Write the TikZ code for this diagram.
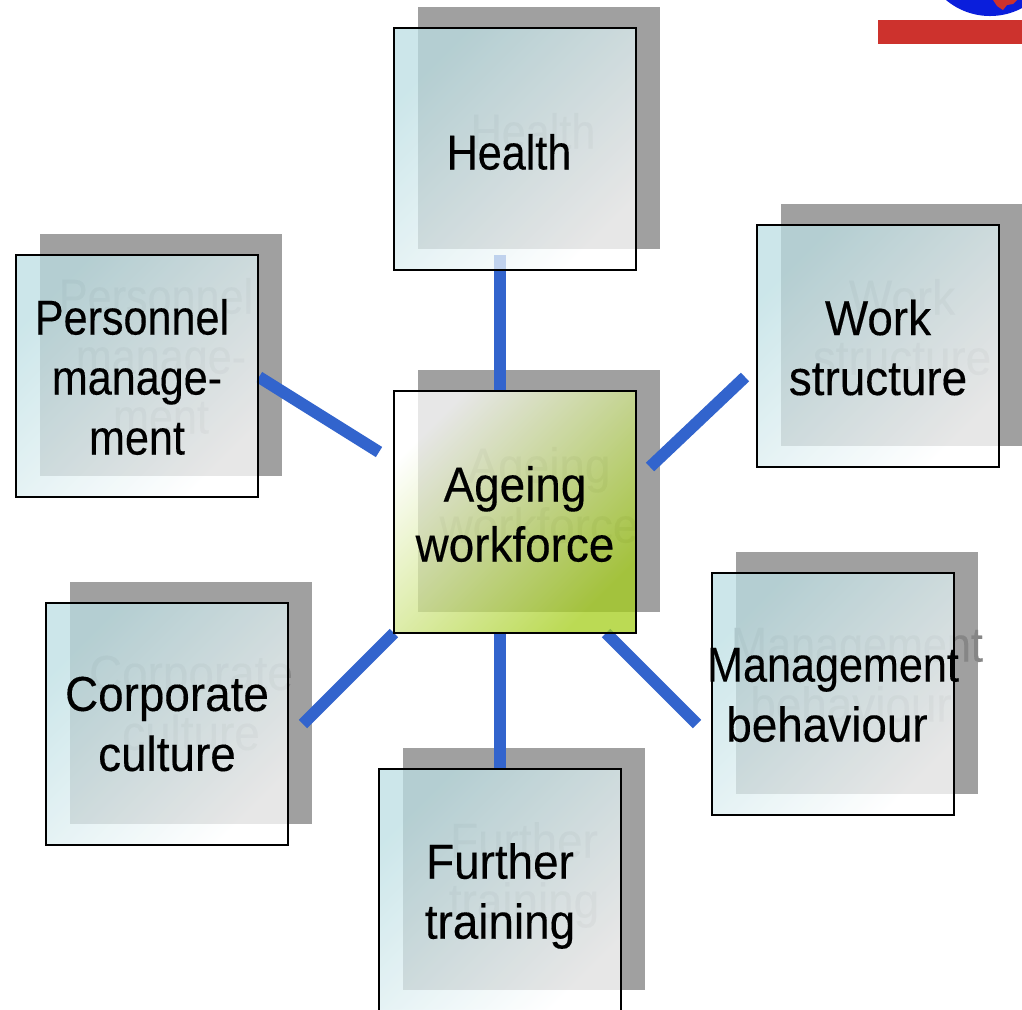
\documentclass[tikz,border=0pt]{standalone}
\usepackage{fontspec}
\usepackage{xcolor}
\usepackage{tikz}
\setmainfont[FakeStretch=0.88,FakeBold=0.25]{Liberation Sans}
\newfontfamily\widefont[FakeStretch=0.935,FakeBold=0.25]{Liberation Sans}
\definecolor{shadowgray}{RGB}{160,160,160}
\definecolor{ghostgray}{RGB}{134,134,134}
\definecolor{linkblue}{RGB}{50,100,205}
\definecolor{boxcyan}{RGB}{187,222,227}
\definecolor{boxgreen}{RGB}{165,206,28}
\definecolor{flagred}{RGB}{205,50,45}
\definecolor{flagblue}{RGB}{10,30,220}

\begin{document}
\begin{tikzpicture}[
	shadowbox/.style={
		fill=shadowgray, draw=none, rectangle, inner sep=0pt,
		minimum width=2.42cm, minimum height=2.42cm
	},
	topicbox/.style={
		draw=black, line width=0.6pt, rectangle, inner sep=0pt,
		minimum width=2.42cm, minimum height=2.42cm,
		top color=boxcyan, bottom color=white, shading angle=45,
		fill opacity=0.75, draw opacity=1
	},
	hubbox/.style={
		topicbox, top color=white, bottom color=boxgreen, shading angle=45
	},
	caption/.style={
		align=center, inner sep=0pt, text=black,
		font=\fontsize{13.95pt}{17.07pt}\selectfont
	},
	widecaption/.style={
		caption, font=\fontsize{13.95pt}{17.07pt}\selectfont\widefont
	},
	ghost/.style={text=ghostgray}, 
	link/.style={draw=linkblue, line width=3.4pt}
	]
	
	\useasboundingbox (0,0) rectangle (10.22,-10.09);
	\fill[white] (0,0) rectangle (10.22,-10.09);
	\clip (0,0) rectangle (10.22,-10.09);
	
	%==================== flag corner ====================
	\fill[flagred] (8.78,-0.20) rectangle (10.22,-0.44);
	\fill[flagblue] (9.90,0.525) circle (0.685);
	\fill[flagred] (9.93,0) -- (9.97,-0.06) -- (10.03,-0.10) -- (10.07,-0.05)
		-- (10.13,-0.04) -- (10.17,0) -- cycle;
	
	%==================== shadows ====================
	\node[shadowbox] (healthshadow) at (5.39,-1.28) {};
	\node[shadowbox] (hubshadow) at (5.39,-4.91) {};
	\node[shadowbox] (workshadow) at (9.02,-3.25) {};
	\node[shadowbox] (personnelshadow) at (1.61,-3.55) {};
	\node[shadowbox] (cultureshadow) at (1.91,-7.03) {};
	\node[shadowbox] (behaviourshadow) at (8.565,-6.73) {};
	\node[shadowbox] (trainingshadow) at (5.24,-8.69) {};
	
	%==================== ghost texts ====================
	\node[caption, ghost] (healthghost) at (5.33,-1.31) {Health};
	\node[widecaption, ghost] (hubghost) at (5.39,-4.95) {Ageing\\workforce};
	\node[widecaption, ghost] (workghost) at (9.02,-3.27) {Work\\structure};
	\node[caption, ghost] (personnelghost) at (1.61,-3.56) {Personnel\hspace*{0.10cm}\\manage-\\ment};
	\node[widecaption, ghost] (cultureghost) at (1.91,-7.03) {Corporate\\culture};
	\node[caption, ghost] (behaviourghost) at (8.57,-6.75) {Management\\{\widefont behaviour}\hspace*{0.12cm}};
	\node[widecaption, ghost] (trainingghost) at (5.24,-8.75) {Further\\training};
	
	%==================== anchors of the links ====================
	\coordinate (healthend) at (5.00,-2.55);
	\coordinate (hubtop) at (5.00,-3.91);
	\coordinate (hubbottom) at (5.00,-6.33);
	\coordinate (hubleft) at (3.79,-4.52);
	\coordinate (hubright) at (6.50,-4.67);
	\coordinate (hubcorner) at (6.06,-6.33);
	\coordinate (hubsouthwest) at (3.94,-6.33);
	\coordinate (personnelend) at (2.59,-3.77);
	\coordinate (workend) at (7.45,-3.77);
	\coordinate (cultureend) at (3.03,-7.24);
	\coordinate (behaviourend) at (6.97,-7.24);
	\coordinate (trainingend) at (5.00,-7.69);
	
	%==================== links ====================
	\draw[link] (healthend) -- (hubtop);
	\draw[link] (hubleft) -- (personnelend);
	\draw[link] (hubright) -- (workend);
	\draw[link] (hubsouthwest) -- (cultureend);
	\draw[link] (hubcorner) -- (behaviourend);
	\draw[link] (hubbottom) -- (trainingend);
	
	%==================== boxes ====================
	\node[topicbox] (health) at (5.15,-1.49) {};
	\node[hubbox] (hub) at (5.15,-5.12) {};
	\node[topicbox] (work) at (8.78,-3.46) {};
	\node[topicbox] (personnel) at (1.37,-3.76) {};
	\node[topicbox] (culture) at (1.67,-7.24) {};
	\node[topicbox] (behaviour) at (8.33,-6.94) {};
	\node[topicbox] (training) at (5.00,-8.90) {};
	
	%==================== captions ====================
	\node[caption] (healthtext) at (5.09,-1.52) {Health};
	\node[widecaption] (hubtext) at (5.15,-5.14) {Ageing\\workforce};
	\node[widecaption] (worktext) at (8.78,-3.475) {Work\\structure};
	\node[caption] (personneltext) at (1.37,-3.77) {Personnel\hspace*{0.10cm}\\manage-\\ment};
	\node[widecaption] (culturetext) at (1.67,-7.24) {Corporate\\culture};
	\node[caption] (behaviourtext) at (8.33,-6.95) {Management\\{\widefont behaviour}\hspace*{0.12cm}};
	\node[widecaption] (trainingtext) at (5.00,-8.96) {Further\\training};
	
\end{tikzpicture}
\end{document}
